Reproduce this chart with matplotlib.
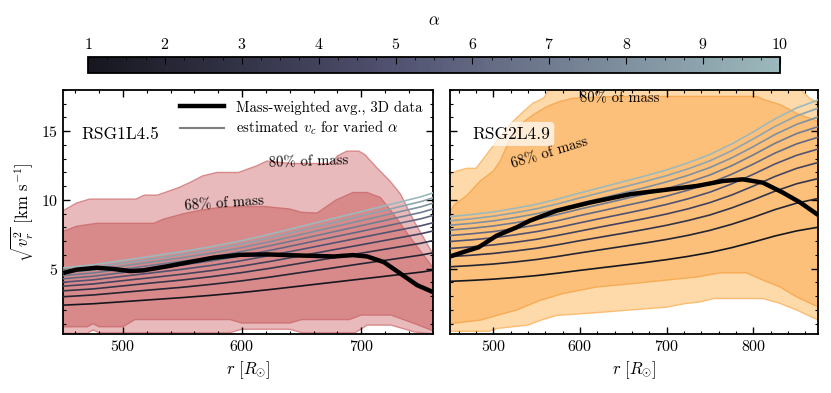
import numpy as np
import matplotlib
matplotlib.use("Agg")
import matplotlib.pyplot as plt
from matplotlib.colors import LinearSegmentedColormap, Normalize
from matplotlib.cm import ScalarMappable
from matplotlib.ticker import MultipleLocator

plt.rcParams['font.family'] = 'serif'
plt.rcParams['font.serif'] = ['cmr10']
plt.rcParams['mathtext.fontset'] = 'cm'
plt.rcParams['axes.formatter.use_mathtext'] = True
plt.rcParams['axes.unicode_minus'] = False

# alpha values for the estimated v_c curves
alphas = [1, 2, 3, 4, 5, 6, 7, 8, 9, 10]

# ---- RSG1L4.5 ----
r1_vc = [450, 475, 500, 525, 550, 575, 600, 625, 650, 675, 700, 725, 750, 760]
vc1 = [
    [2.35, 2.45, 2.60, 2.75, 2.90, 3.07, 3.27, 3.50, 3.75, 4.00, 4.25, 4.50, 4.75, 4.88],
    [2.96, 3.09, 3.28, 3.47, 3.65, 3.87, 4.12, 4.41, 4.73, 5.04, 5.36, 5.67, 5.99, 6.15],
    [3.39, 3.53, 3.75, 3.97, 4.18, 4.43, 4.72, 5.05, 5.41, 5.77, 6.13, 6.49, 6.85, 7.04],
    [3.73, 3.89, 4.13, 4.36, 4.60, 4.87, 5.19, 5.55, 5.95, 6.35, 6.74, 7.14, 7.54, 7.74],
    [4.02, 4.19, 4.45, 4.70, 4.96, 5.25, 5.59, 5.99, 6.41, 6.84, 7.27, 7.70, 8.12, 8.34],
    [4.27, 4.45, 4.72, 5.00, 5.27, 5.58, 5.94, 6.36, 6.81, 7.27, 7.72, 8.18, 8.63, 8.87],
    [4.50, 4.69, 4.97, 5.26, 5.55, 5.87, 6.26, 6.70, 7.17, 7.65, 8.13, 8.61, 9.09, 9.34],
    [4.70, 4.90, 5.20, 5.50, 5.80, 6.14, 6.54, 7.00, 7.50, 8.00, 8.50, 9.00, 9.50, 9.76],
    [4.89, 5.10, 5.41, 5.72, 6.03, 6.39, 6.80, 7.28, 7.80, 8.32, 8.84, 9.36, 9.88, 10.15],
    [5.06, 5.28, 5.60, 5.92, 6.25, 6.61, 7.04, 7.54, 8.08, 8.62, 9.15, 9.69, 10.23, 10.51],
]
r1_avg = [450, 461, 478, 492, 506, 517, 537, 556, 576, 598, 621, 649, 677, 693, 705, 719, 733, 747, 760]
v1_avg = [4.69, 4.93, 5.07, 4.98, 4.83, 4.88, 5.17, 5.48, 5.80, 6.01, 6.04, 5.96, 5.89, 5.99, 5.89, 5.48, 4.64, 3.80, 3.31]

r1_80_hi = [450, 461, 472, 511, 518, 529, 547, 556, 567, 579, 597, 612, 621, 641, 675, 680, 688, 698, 703, 713, 724, 733, 744, 760]
v1_80_hi = [9.22, 9.77, 10.06, 10.06, 10.35, 10.35, 10.9, 11.26, 11.75, 12.0, 12.0, 12.47, 12.83, 12.65, 12.65, 13.2, 13.55, 13.55, 13.3, 12.35, 11.38, 10.42, 8.5, 6.1]
r1_80_lo = [450, 470, 475, 480, 590, 600, 640, 650, 695, 705, 725, 745, 760]
v1_80_lo = [0.3, 0.3, 0.55, 0.35, 0.35, 0.6, 0.6, 0.35, 0.35, 0.9, 0.9, 0.4, 0.25]
r1_68_hi = [450, 461, 478, 526, 534, 551, 565, 582, 598, 618, 640, 650, 663, 679, 693, 705, 716, 727, 741, 760]
v1_68_hi = [7.72, 8.08, 8.3, 8.3, 8.6, 9.0, 9.25, 9.46, 9.5, 9.53, 9.34, 9.1, 9.05, 10.0, 10.54, 10.54, 10.18, 8.98, 7.29, 5.1]
r1_68_lo = [450, 470, 475, 480, 500, 510, 590, 600, 640, 650, 690, 700, 725, 745, 760]
v1_68_lo = [0.78, 0.78, 1.0, 0.78, 0.78, 1.3, 1.3, 1.05, 1.05, 1.3, 1.3, 1.63, 1.63, 1.0, 0.5]

# ---- RSG2L4.9 ----
r2_vc = [450, 475, 500, 525, 550, 575, 600, 625, 650, 675, 700, 725, 750, 775, 800, 825, 850, 875]
vc2 = [
    [4.08, 4.15, 4.24, 4.36, 4.50, 4.68, 4.88, 5.07, 5.26, 5.45, 5.66, 5.90, 6.18, 6.53, 6.94, 7.38, 7.75, 8.02],
    [5.14, 5.23, 5.34, 5.49, 5.67, 5.90, 6.15, 6.39, 6.63, 6.87, 7.13, 7.43, 7.79, 8.23, 8.74, 9.30, 9.77, 10.11],
    [5.88, 5.98, 6.11, 6.29, 6.49, 6.75, 7.04, 7.31, 7.58, 7.86, 8.16, 8.51, 8.91, 9.42, 10.01, 10.64, 11.18, 11.56],
    [6.47, 6.59, 6.73, 6.92, 7.14, 7.43, 7.74, 8.05, 8.35, 8.65, 8.98, 9.36, 9.81, 10.36, 11.01, 11.71, 12.30, 12.73],
    [6.98, 7.10, 7.25, 7.46, 7.70, 8.00, 8.34, 8.67, 8.99, 9.32, 9.68, 10.09, 10.57, 11.17, 11.87, 12.62, 13.25, 13.71],
    [7.41, 7.54, 7.70, 7.92, 8.18, 8.50, 8.87, 9.21, 9.56, 9.90, 10.28, 10.72, 11.23, 11.87, 12.61, 13.41, 14.08, 14.57],
    [7.81, 7.94, 8.11, 8.34, 8.61, 8.95, 9.34, 9.70, 10.06, 10.43, 10.83, 11.29, 11.82, 12.49, 13.28, 14.12, 14.83, 15.34],
    [8.16, 8.30, 8.48, 8.72, 9.00, 9.36, 9.76, 10.14, 10.52, 10.90, 11.32, 11.80, 12.36, 13.06, 13.88, 14.76, 15.50, 16.04],
    [8.49, 8.63, 8.82, 9.07, 9.36, 9.73, 10.15, 10.55, 10.94, 11.34, 11.77, 12.27, 12.85, 13.58, 14.44, 15.35, 16.12, 16.68],
    [8.79, 8.94, 9.13, 9.39, 9.69, 10.08, 10.51, 10.92, 11.33, 11.74, 12.19, 12.71, 13.31, 14.07, 14.95, 15.90, 16.69, 17.28],
]
r2_avg = [450, 465, 483, 504, 527, 542, 573, 612, 658, 704, 735, 765, 788, 811, 834, 854, 875]
v2_avg = [5.89, 6.2, 6.56, 7.41, 8.01, 8.49, 9.22, 9.82, 10.42, 10.78, 11.02, 11.38, 11.5, 11.26, 10.54, 9.82, 8.9]

r2_80_hi = [450, 458, 469, 480, 488, 504, 519, 535, 546, 558, 570, 600, 850, 855, 865, 875]
v2_80_hi = [11.87, 12.1, 12.3, 12.3, 12.95, 14.28, 15.48, 16.45, 17.05, 17.41, 18.5, 19.0, 19.0, 18.0, 17.4, 17.05]
r2_80_lo = [450, 495, 505, 540, 555, 573, 612, 658, 700, 720, 740, 754, 811, 830, 850, 875]
v2_80_lo = [0.45, 0.45, 0.66, 0.9, 1.26, 1.6, 1.77, 2.0, 2.2, 2.45, 2.6, 2.83, 2.83, 2.5, 2.0, 1.26]
r2_68_hi = [450, 456, 469, 485, 500, 508, 519, 531, 546, 562, 577, 592, 642, 804, 812, 831, 850, 875]
v2_68_hi = [9.2, 9.7, 10.3, 11.38, 12.1, 12.83, 14.4, 15.48, 16.2, 16.8, 17.17, 17.4, 17.53, 17.53, 17.3, 16.93, 16.3, 15.7]
r2_68_lo = [450, 485, 504, 527, 554, 581, 619, 658, 696, 735, 762, 792, 812, 831, 850, 875]
v2_68_lo = [1.0, 1.26, 1.6, 2.0, 2.7, 3.2, 3.67, 3.9, 4.15, 4.4, 4.7, 4.7, 4.15, 3.67, 2.95, 2.22]

# colormap: lower part of "bone"
bone = plt.get_cmap('bone')
cmap = LinearSegmentedColormap.from_list('bone_cut', bone(np.linspace(0.1, 0.7, 256)))
norm = Normalize(1, 10)

fig = plt.figure(figsize=(8.31, 3.93), dpi=100)
ax1 = fig.add_axes([63.3 / 831, 59 / 393, 369.4 / 831, 244 / 393])
ax2 = fig.add_axes([450 / 831, 59 / 393, 368.3 / 831, 244 / 393])
cax = fig.add_axes([88 / 831, 320 / 393, 692 / 831, 16.5 / 393])


def band(ax, xh, yh, xl, yl, fc, ec):
    xs = list(xh) + list(xl)[::-1]
    ys = list(yh) + list(yl)[::-1]
    ax.fill(xs, ys, facecolor=fc, edgecolor=ec, linewidth=1.0, zorder=1)


def panel(ax, r_vc, vc, r_avg, v_avg):
    for a, v in zip(alphas, vc):
        ax.plot(r_vc, v, color=cmap(norm(a)), lw=1.2, zorder=3)
    ax.plot(r_avg, v_avg, color='black', lw=3.2, zorder=4, solid_capstyle='butt')


# left panel
band(ax1, r1_80_hi, v1_80_hi, r1_80_lo, v1_80_lo, '#e8babc', '#d9898c')
band(ax1, r1_68_hi, v1_68_hi, r1_68_lo, v1_68_lo, '#d88a8b', '#cf7476')
panel(ax1, r1_vc, vc1, r1_avg, v1_avg)
ax1.text(656, 12.75, '80% of mass', fontsize=10.5, ha='center', va='center', rotation=2, zorder=5)
ax1.text(585, 9.72, '68% of mass', fontsize=10.5, ha='center', va='center', rotation=4, zorder=5)
ax1.text(0.05, 0.82, 'RSG1L4.5', transform=ax1.transAxes, fontsize=12.5, va='center')
h1, = ax1.plot([], [], color='black', lw=3.2, label='Mass-weighted avg., 3D data')
h2, = ax1.plot([], [], color='gray', lw=1.5, label=r'estimated $v_c$ for varied $\alpha$')
ax1.legend(handles=[h1, h2], loc='upper right', frameon=False, fontsize=10.6,
           handlelength=3.0, borderaxespad=0.3, labelspacing=0.3)
ax1.set_xlim(450, 760)

# right panel
band(ax2, r2_80_hi, v2_80_hi, r2_80_lo, v2_80_lo, '#fed9a9', '#fbbd72')
band(ax2, r2_68_hi, v2_68_hi, r2_68_lo, v2_68_lo, '#fcc07a', '#f7ab55')
panel(ax2, r2_vc, vc2, r2_avg, v2_avg)
ax2.text(646, 17.35, '80% of mass', fontsize=10.5, ha='center', va='center', zorder=5)
ax2.text(565, 13.4, '68% of mass', fontsize=10.5, ha='center', va='center', rotation=17, zorder=5)
ax2.text(0.06, 0.82, 'RSG2L4.9', transform=ax2.transAxes, fontsize=12.5, va='center',
         bbox=dict(boxstyle='round,pad=0.25', fc='white', ec='none', alpha=0.7), zorder=6)
ax2.set_xlim(450, 875)

for ax in (ax1, ax2):
    ax.set_ylim(0.25, 18)
    ax.xaxis.set_major_locator(MultipleLocator(100))
    ax.xaxis.set_minor_locator(MultipleLocator(20))
    ax.yaxis.set_major_locator(MultipleLocator(5))
    ax.yaxis.set_minor_locator(MultipleLocator(1))
    ax.tick_params(which='both', direction='in', top=True, right=True, labelsize=11.5)
    ax.tick_params(which='major', length=5, width=1)
    ax.tick_params(which='minor', length=2.5, width=0.8)
    for s in ax.spines.values():
        s.set_linewidth(1.3)
    ax.set_xlabel(r'$r\ [R_{\odot}]$', fontsize=12)
ax2.set_yticklabels([])
ax1.set_ylabel(r'$\sqrt{v_r^2}$ [km s$^{-1}$]', fontsize=12)

# colorbar
cb = fig.colorbar(ScalarMappable(norm=norm, cmap=cmap), cax=cax, orientation='horizontal')
cax.xaxis.set_ticks_position('top')
cax.xaxis.set_label_position('top')
cb.set_ticks(alphas)
cax.xaxis.set_minor_locator(MultipleLocator(0.25))
cax.tick_params(which='both', direction='in', labelsize=11.5)
cax.tick_params(which='major', length=5)
cax.tick_params(which='minor', length=2.5)
cb.outline.set_linewidth(1.3)
cb.set_label(r'$\alpha$', fontsize=12, labelpad=8)

fig.savefig('out.png', dpi=100)
